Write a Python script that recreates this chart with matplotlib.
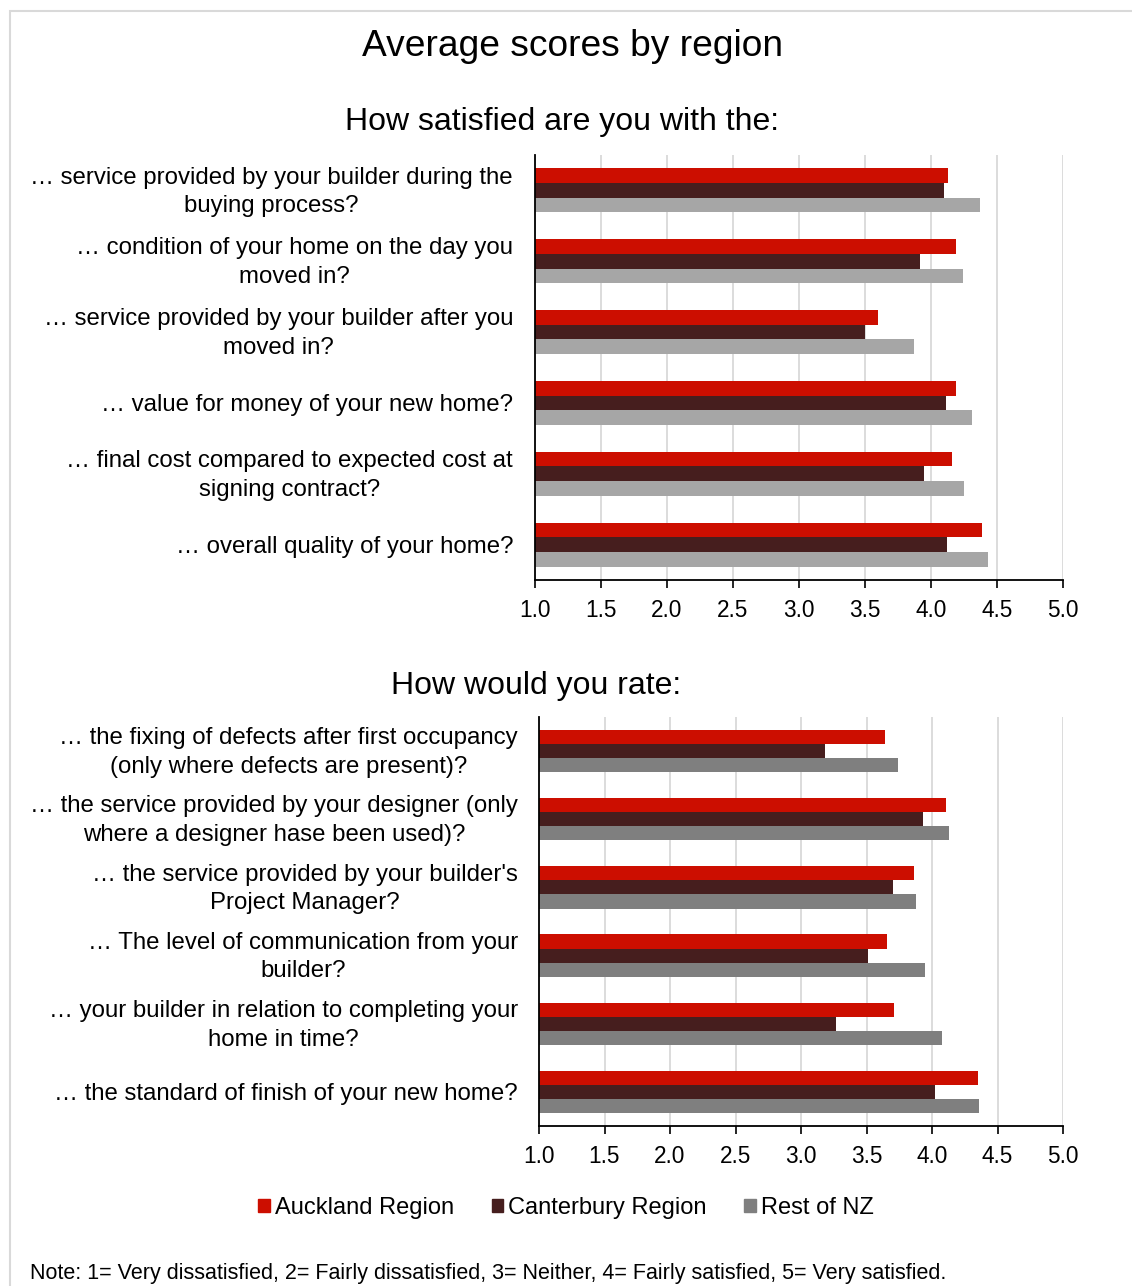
import numpy as np
import matplotlib
matplotlib.use('Agg')
import matplotlib.pyplot as plt
import matplotlib.transforms as mtrans
from matplotlib.patches import Rectangle, Patch

plt.rcParams['font.family'] = ['Liberation Sans', 'DejaVu Sans']

# data
satisfiedLabels = [
    '… service provided by your builder during the\nbuying process?',
    '… condition of your home on the day you\nmoved in?',
    '… service provided by your builder after you\nmoved in?',
    '… value for money of your new home?',
    '… final cost compared to expected cost at\nsigning contract?',
    '… overall quality of your home?',
]
satAuckland = [4.13, 4.19, 3.60, 4.19, 4.16, 4.39]
satCanterbury = [4.10, 3.92, 3.50, 4.11, 3.95, 4.12]
satRest = [4.37, 4.24, 3.87, 4.31, 4.25, 4.43]

rateLabels = [
    '… the fixing of defects after first occupancy\n(only where defects are present)?',
    '… the service provided by your designer (only\nwhere a designer hase been used)?',
    "… the service provided by your builder's\nProject Manager?",
    '… The level of communication from your\nbuilder?',
    '… your builder in relation to completing your\nhome in time?',
    '… the standard of finish of your new home?',
]
rateAuckland = [3.64, 4.11, 3.86, 3.66, 3.71, 4.35]
rateCanterbury = [3.18, 3.93, 3.70, 3.51, 3.27, 4.02]
rateRest = [3.74, 4.13, 3.88, 3.95, 4.08, 4.36]

regions = ['Auckland Region', 'Canterbury Region', 'Rest of NZ']
xTicks = [1.0, 1.5, 2.0, 2.5, 3.0, 3.5, 4.0, 4.5, 5.0]

red = '#CC0E00'
maroon = '#461E1E'
lightGrey = '#A6A6A6'
darkGrey = '#7F7F7F'

W, H = 1132, 1286
fig = plt.figure(figsize=(W / 100, H / 100), dpi=100)


def px(x0, y0, x1, y1):
    # pixel box -> figure fraction rect
    return [x0 / W, 1 - y1 / H, (x1 - x0) / W, (y1 - y0) / H]


def barPanel(ax, labels, a, c, r, restColor, padPx):
    pos = np.arange(len(labels))
    h = 0.207
    base = 1.0  # bars start at the axis origin
    ax.barh(pos - h, np.subtract(a, base), left=base, height=h, color=red, lw=0)
    ax.barh(pos, np.subtract(c, base), left=base, height=h, color=maroon, lw=0)
    ax.barh(pos + h, np.subtract(r, base), left=base, height=h, color=restColor, lw=0)
    ax.set_xlim(1, 5)
    ax.set_ylim(len(labels) - 0.5, -0.5)
    ax.set_xticks(xTicks)
    ax.set_xticklabels(['%.1f' % t for t in xTicks], fontsize=16.3)
    ax.set_yticks(pos)
    ax.set_yticklabels([])
    # category labels, right-aligned against the axis
    for p, lab in zip(pos, labels):
        dy = -1.5 if '\n' in lab else -2
        off = mtrans.ScaledTranslation(-padPx / 100, dy / 100, fig.dpi_scale_trans)
        ax.text(0, p, lab, transform=ax.get_yaxis_transform() + off,
                ha='right', va='center', multialignment='center',
                fontsize=17.3, linespacing=1.4)
    ax.tick_params(axis='y', length=0)
    ax.tick_params(axis='x', length=6, width=1.2, direction='out', pad=7.5)
    ax.xaxis.grid(True, color='#D9D9D9', lw=1.3)
    ax.set_axisbelow(True)
    for s in ['top', 'right']:
        ax.spines[s].set_visible(False)
    for s in ['left', 'bottom']:
        ax.spines[s].set_color('black')
        ax.spines[s].set_linewidth(1.3)


ax1 = fig.add_axes(px(535, 155, 1063, 580))
barPanel(ax1, satisfiedLabels, satAuckland, satCanterbury, satRest, lightGrey, 22)

ax2 = fig.add_axes(px(539, 717, 1063, 1126))
barPanel(ax2, rateLabels, rateAuckland, rateCanterbury, rateRest, darkGrey, 21)

# titles
fig.text(573 / W, 1 - 46 / H, 'Average scores by region', fontsize=26.7,
         ha='center', va='center')
fig.text(562 / W, 1 - 122 / H, 'How satisfied are you with the:', fontsize=23,
         ha='center', va='center')
fig.text(536 / W, 1 - 686 / H, 'How would you rate:', fontsize=23,
         ha='center', va='center')

# legend
handles = [Patch(color=red), Patch(color=maroon), Patch(color=darkGrey)]
fig.legend(handles, regions, loc='center', bbox_to_anchor=(566 / W, 1 - 1208 / H),
           ncol=3, frameon=False, fontsize=17, handlelength=0.5, handleheight=0.5,
           handletextpad=0.2, columnspacing=1.6)

fig.text(30 / W, 1 - 1274 / H,
         'Note: 1= Very dissatisfied, 2= Fairly dissatisfied, 3= Neither, '
         '4= Fairly satisfied, 5= Very satisfied.',
         fontsize=15.5, ha='left', va='center')

# outer frame
fig.add_artist(Rectangle((10 / W, -0.1), 1.2, 1 - 11 / H + 0.1,
                         transform=fig.transFigure, fill=False,
                         ec='#D9D9D9', lw=1.5))

fig.savefig('out.png', dpi=100)
